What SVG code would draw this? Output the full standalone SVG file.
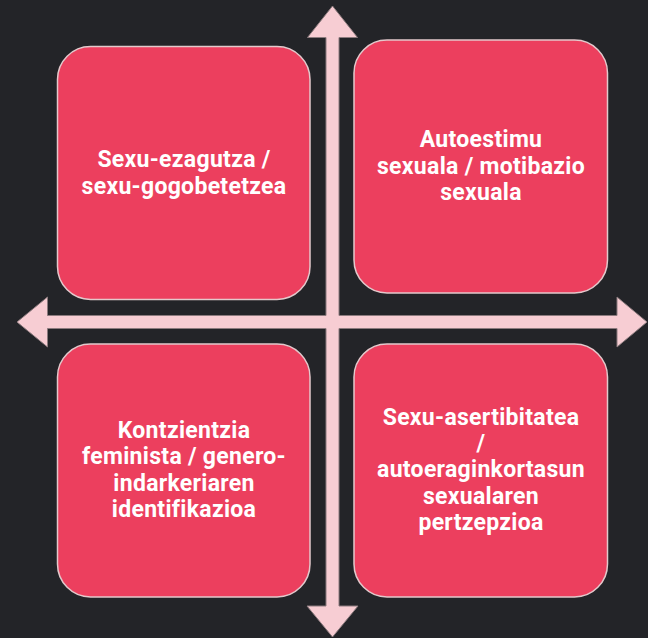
<svg xmlns="http://www.w3.org/2000/svg" width="648" height="638" viewBox="0 0 648 638">
<style>
.box{fill:#EC3F5E;stroke:#E3C9CC;stroke-width:1.5}
.lbl{font-family:Roboto,"Liberation Sans",sans-serif;font-weight:bold;font-size:23px;letter-spacing:0.3px;fill:#FFFFFF;text-anchor:middle}
.axis{fill:#F7CDD3;stroke:#8C7B7E;stroke-width:1}
</style>
<rect x="0" y="0" width="648" height="638" fill="#232428"/>
<g id="connectors">
<path class="axis" d="M332.5,6 L357.5,37.5 L339,37.5 L339,315.5 L617,315.5 L617,297 L647,322 L617,347 L617,328.5 L339,328.5 L339,606 L358,606 L332.5,637 L307,606 L326,606 L326,328.5 L47.5,328.5 L47.5,347 L17,322 L47.5,297 L47.5,315.5 L326,315.5 L326,37.5 L307.5,37.5 Z"/>
</g>
<g id="node-tl">
<rect class="box" x="57.5" y="46.5" width="252.5" height="253" rx="33"/>
<text class="lbl" x="184" y="167">Sexu-ezagutza /</text>
<text class="lbl" x="184" y="194">sexu-gogobetetzea</text>
</g>
<g id="node-tr">
<rect class="box" x="354" y="40" width="253.5" height="253" rx="33"/>
<text class="lbl" x="481" y="147">Autoestimu</text>
<text class="lbl" x="481" y="173.5">sexuala / motibazio</text>
<text class="lbl" x="481" y="200">sexuala</text>
</g>
<g id="node-bl">
<rect class="box" x="57.5" y="344" width="252.5" height="253" rx="33"/>
<text class="lbl" x="184" y="437.5">Kontzientzia</text>
<text class="lbl" x="184" y="464">feminista / genero-</text>
<text class="lbl" x="184" y="490.5">indarkeriaren</text>
<text class="lbl" x="184" y="517">identifikazioa</text>
</g>
<g id="node-br">
<rect class="box" x="354" y="344" width="253.5" height="253" rx="33"/>
<text class="lbl" x="481" y="424.5">Sexu-asertibitatea</text>
<text class="lbl" x="481" y="451">/</text>
<text class="lbl" x="481" y="477">autoeraginkortasun</text>
<text class="lbl" x="481" y="503.5">sexualaren</text>
<text class="lbl" x="481" y="530">pertzepzioa</text>
</g>
</svg>
